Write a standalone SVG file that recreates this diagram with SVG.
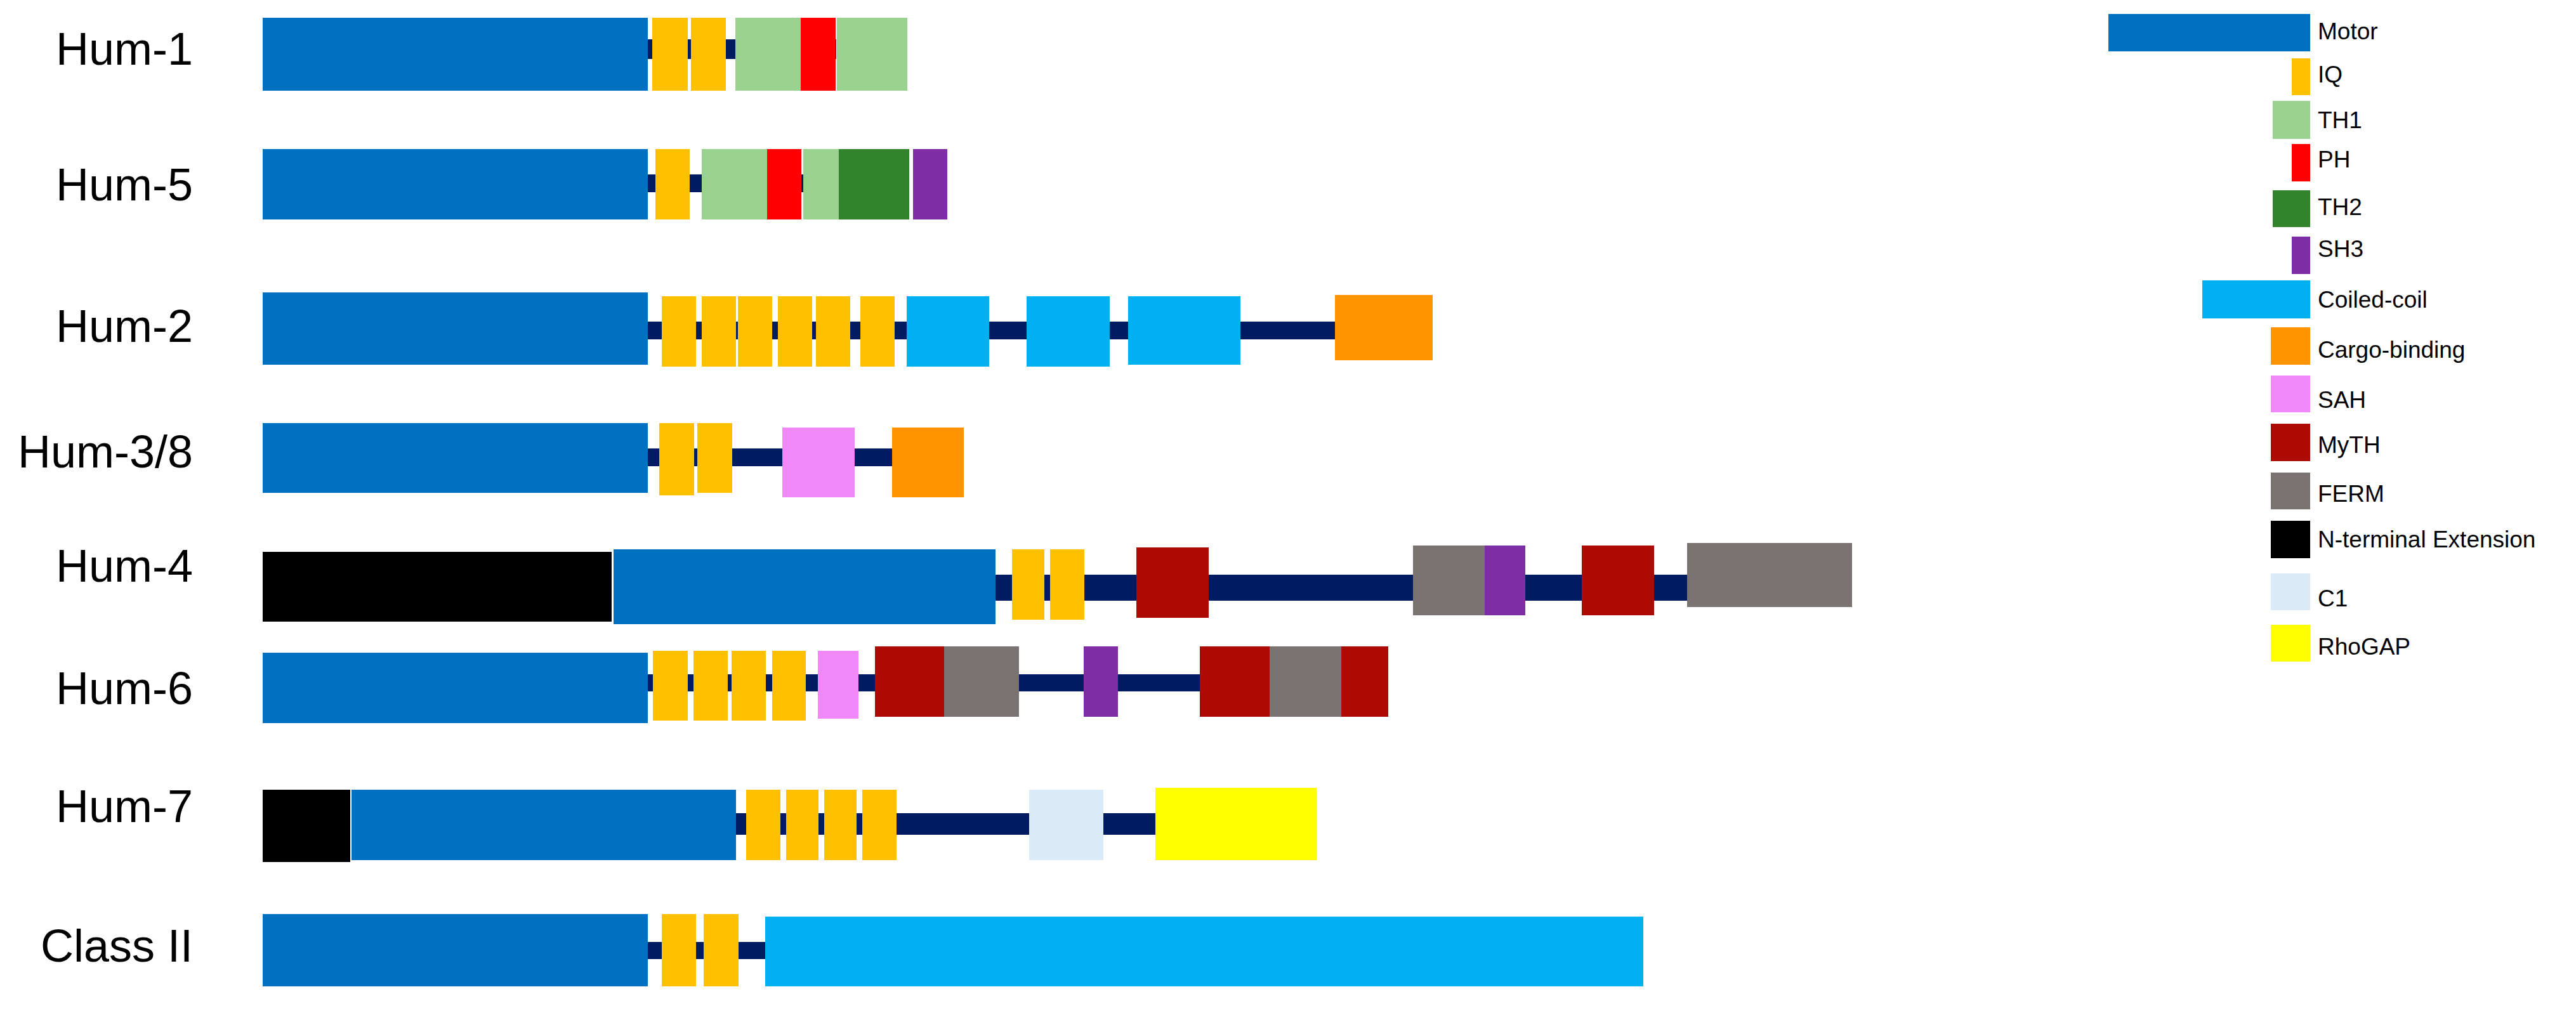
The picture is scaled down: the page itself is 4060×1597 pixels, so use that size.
<svg xmlns="http://www.w3.org/2000/svg" width="4060" height="1597" viewBox="0 0 4060 1597">
<style>
text{font-family:"Liberation Sans",Arial,sans-serif;fill:#000}
.lab{font-size:72px;text-anchor:end}
.leg{font-size:37px}
.bb{fill:#001B62}
.motor{fill:#0070C0}.iq{fill:#FFC000}.th1{fill:#98D28E}.ph{fill:#FF0000}.th2{fill:#31842C}
.sh3{fill:#7F2DA5}.cc{fill:#00B0F0}.cargo{fill:#FF9400}.sah{fill:#F088FA}.myth{fill:#AE0A04}
.ferm{fill:#7B7272}.nt{fill:#000}.c1{fill:#DAEAF7}.rho{fill:#FFFF00}
</style>
<rect width="4060" height="1597" fill="#fff"/>
<g id="backbones">
<rect class="bb" x="1021" y="62" width="297" height="31"/>
<rect class="bb" x="1021" y="275" width="245" height="28"/>
<rect class="bb" x="1021" y="507" width="1083" height="28"/>
<rect class="bb" x="1021" y="707" width="385" height="28"/>
<rect class="bb" x="1569" y="906" width="1090" height="41"/>
<rect class="bb" x="1021" y="1063" width="870" height="27"/>
<rect class="bb" x="1160" y="1282" width="661" height="34"/>
<rect class="bb" x="1021" y="1485" width="185" height="27"/>
</g>
<g id="hum1">
<text class="lab" x="304" y="102">Hum-1</text>
<rect class="motor" x="414" y="28" width="607" height="115"/>
<rect class="iq" x="1028" y="28" width="56" height="115"/>
<rect class="iq" x="1089" y="28" width="55" height="115"/>
<rect class="th1" x="1159" y="28" width="103" height="115"/>
<rect class="ph" x="1262" y="28" width="55" height="115"/>
<rect class="th1" x="1319" y="28" width="111" height="115"/>
</g>
<g id="hum5">
<text class="lab" x="304" y="316">Hum-5</text>
<rect class="motor" x="414" y="235" width="607" height="111"/>
<rect class="iq" x="1033" y="235" width="54" height="111"/>
<rect class="th1" x="1106" y="235" width="103" height="111"/>
<rect class="ph" x="1209" y="235" width="54" height="111"/>
<rect class="th1" x="1266" y="235" width="56" height="111"/>
<rect class="th2" x="1322" y="235" width="111" height="111"/>
<rect class="sh3" x="1439" y="235" width="54" height="111"/>
</g>
<g id="hum2">
<text class="lab" x="304" y="539">Hum-2</text>
<rect class="motor" x="414" y="461" width="607" height="114"/>
<rect class="iq" x="1043" y="467" width="54" height="111"/>
<rect class="iq" x="1106" y="467" width="54" height="111"/>
<rect class="iq" x="1163" y="467" width="54" height="111"/>
<rect class="iq" x="1226" y="467" width="54" height="111"/>
<rect class="iq" x="1286" y="467" width="54" height="111"/>
<rect class="iq" x="1356" y="467" width="54" height="111"/>
<rect class="cc" x="1429" y="467" width="130" height="111"/>
<rect class="cc" x="1618" y="467" width="131" height="111"/>
<rect class="cc" x="1778" y="467" width="177" height="108"/>
<rect class="cargo" x="2104" y="465" width="154" height="103"/>
</g>
<g id="hum3-8">
<text class="lab" x="304" y="737">Hum-3/8</text>
<rect class="motor" x="414" y="667" width="607" height="110"/>
<rect class="iq" x="1039" y="667" width="55" height="114"/>
<rect class="iq" x="1099" y="667" width="55" height="110"/>
<rect class="sah" x="1233" y="674" width="114" height="110"/>
<rect class="cargo" x="1406" y="674" width="113" height="110"/>
</g>
<g id="hum4">
<text class="lab" x="304" y="917">Hum-4</text>
<rect class="nt" x="414" y="870" width="550" height="110"/>
<rect class="motor" x="967" y="866" width="602" height="118"/>
<rect class="iq" x="1595" y="866" width="51" height="111"/>
<rect class="iq" x="1655" y="866" width="54" height="111"/>
<rect class="myth" x="1791" y="863" width="114" height="111"/>
<rect class="ferm" x="2227" y="860" width="113" height="110"/>
<rect class="sh3" x="2340" y="860" width="64" height="110"/>
<rect class="myth" x="2493" y="860" width="114" height="110"/>
<rect class="ferm" x="2659" y="856" width="260" height="101"/>
</g>
<g id="hum6">
<text class="lab" x="304" y="1110">Hum-6</text>
<rect class="motor" x="414" y="1029" width="607" height="111"/>
<rect class="iq" x="1029" y="1026" width="55" height="110"/>
<rect class="iq" x="1093" y="1026" width="54" height="110"/>
<rect class="iq" x="1153" y="1026" width="54" height="110"/>
<rect class="iq" x="1217" y="1026" width="53" height="110"/>
<rect class="sah" x="1289" y="1026" width="64" height="107"/>
<rect class="myth" x="1379" y="1019" width="109" height="111"/>
<rect class="ferm" x="1488" y="1019" width="118" height="111"/>
<rect class="sh3" x="1708" y="1019" width="54" height="111"/>
<rect class="myth" x="1891" y="1019" width="110" height="111"/>
<rect class="ferm" x="2001" y="1019" width="113" height="111"/>
<rect class="myth" x="2114" y="1019" width="74" height="111"/>
</g>
<g id="hum7">
<text class="lab" x="304" y="1296">Hum-7</text>
<rect class="nt" x="414" y="1245" width="138" height="114"/>
<rect class="motor" x="554" y="1245" width="606" height="111"/>
<rect class="iq" x="1176" y="1245" width="54" height="111"/>
<rect class="iq" x="1239" y="1245" width="51" height="111"/>
<rect class="iq" x="1299" y="1245" width="51" height="111"/>
<rect class="iq" x="1359" y="1245" width="54" height="111"/>
<rect class="c1" x="1622" y="1245" width="117" height="111"/>
<rect class="rho" x="1821" y="1242" width="254" height="114"/>
</g>
<g id="classII">
<text class="lab" x="304" y="1516">Class II</text>
<rect class="motor" x="414" y="1441" width="607" height="114"/>
<rect class="iq" x="1043" y="1441" width="54" height="114"/>
<rect class="iq" x="1109" y="1441" width="55" height="114"/>
<rect class="cc" x="1206" y="1445" width="1384" height="110"/>
</g>
<g id="legend">
<rect class="motor" x="3323" y="22" width="318" height="59"/><text class="leg" x="3653" y="62">Motor</text>
<rect class="iq" x="3612" y="92" width="29" height="58"/><text class="leg" x="3653" y="130">IQ</text>
<rect class="th1" x="3582" y="159" width="59" height="60"/><text class="leg" x="3653" y="202">TH1</text>
<rect class="ph" x="3612" y="227" width="29" height="59"/><text class="leg" x="3653" y="264">PH</text>
<rect class="th2" x="3582" y="300" width="59" height="58"/><text class="leg" x="3653" y="339">TH2</text>
<rect class="sh3" x="3612" y="373" width="29" height="59"/><text class="leg" x="3653" y="405">SH3</text>
<rect class="cc" x="3471" y="442" width="170" height="60"/><text class="leg" x="3653" y="485">Coiled-coil</text>
<rect class="cargo" x="3579" y="516" width="62" height="59"/><text class="leg" x="3653" y="564">Cargo-binding</text>
<rect class="sah" x="3579" y="592" width="62" height="58"/><text class="leg" x="3653" y="643">SAH</text>
<rect class="myth" x="3579" y="668" width="62" height="59"/><text class="leg" x="3653" y="714">MyTH</text>
<rect class="ferm" x="3579" y="745" width="62" height="58"/><text class="leg" x="3653" y="791">FERM</text>
<rect class="nt" x="3579" y="821" width="62" height="59"/><text class="leg" x="3653" y="863">N-terminal Extension</text>
<rect class="c1" x="3579" y="904" width="62" height="58"/><text class="leg" x="3653" y="956">C1</text>
<rect class="rho" x="3579" y="985" width="62" height="58"/><text class="leg" x="3653" y="1032">RhoGAP</text>
</g>
</svg>
